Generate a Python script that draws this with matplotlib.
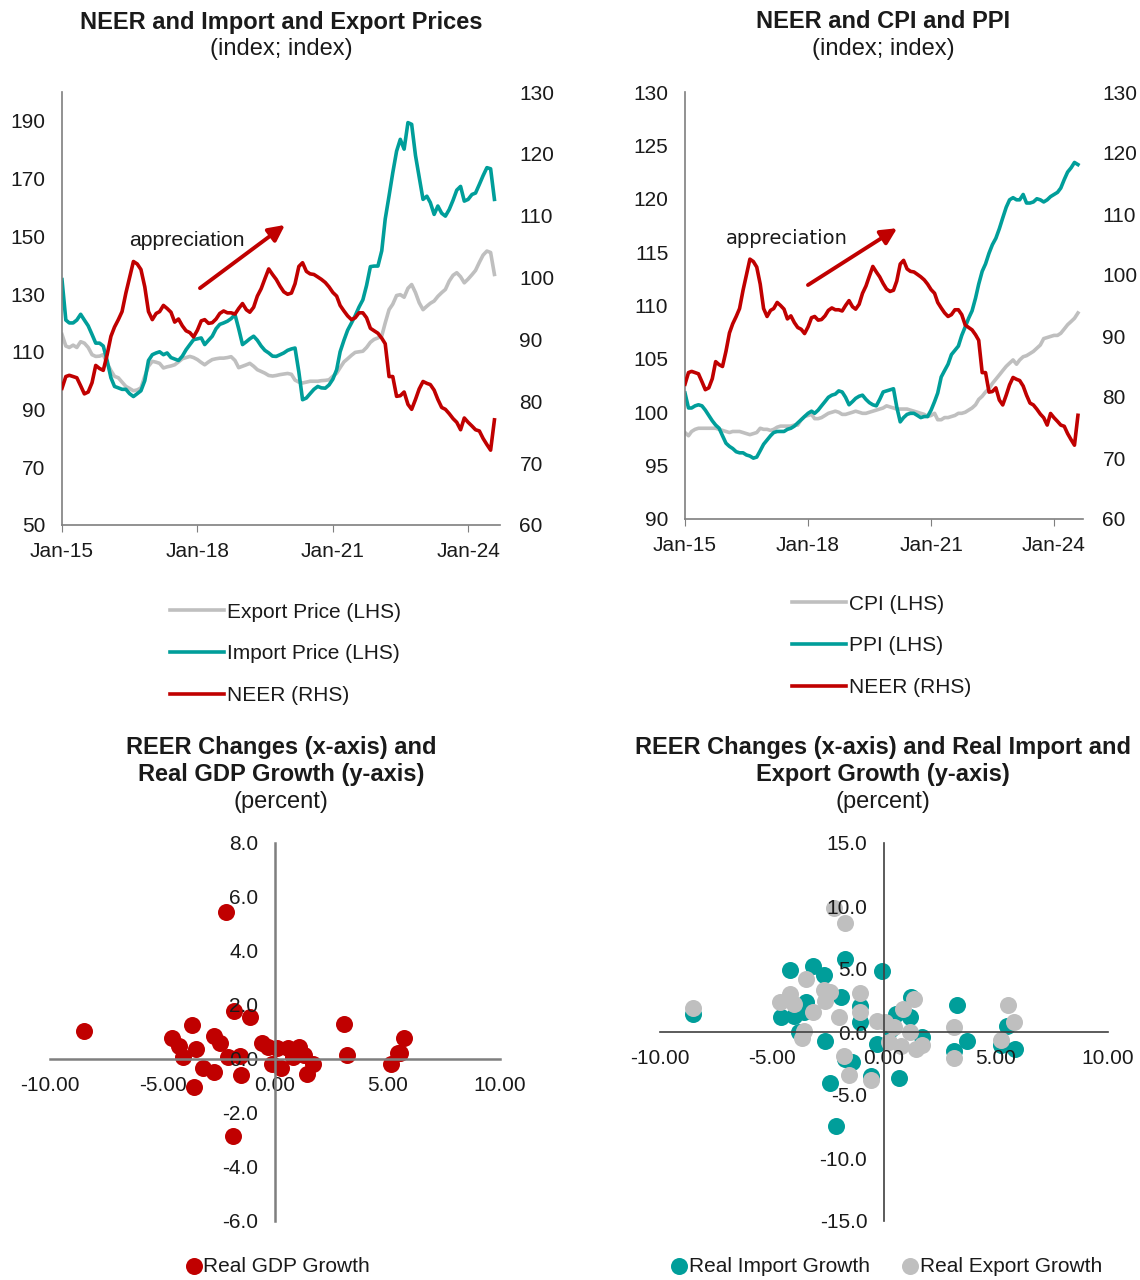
import matplotlib
matplotlib.use('Agg')
import matplotlib.pyplot as plt
import matplotlib.dates as mdates
from matplotlib.ticker import FormatStrFormatter
import pandas as pd

plt.rcParams['font.family'] = ['Liberation Sans', 'DejaVu Sans']
plt.rcParams['font.size'] = 15
plt.rcParams['text.color'] = '#1a1a1a'
plt.rcParams['xtick.color'] = '#1a1a1a'
plt.rcParams['ytick.color'] = '#1a1a1a'

RED = '#C00000'
TEAL = '#009E9A'
GREY = '#BFBFBF'
SPINE = '#7F7F7F'
TITLE_SIZE = 17

# monthly series, Jan-2015 .. Aug-2024
months = pd.date_range('2015-01-01', periods=116, freq='MS')

export_price = [
    116, 112, 111.5, 112.3, 111.5, 113.5, 113, 111.5, 109, 108.4, 108.5, 109,
    106, 103.5, 101.5, 101, 99.5, 98, 97.3, 96.5, 96.8, 97.5, 101.5, 105,
    106.7, 106.4, 106, 104.4, 104.8, 105.1, 105.5, 106.5, 107.6, 108, 108.4, 108,
    107.3, 106.3, 105.5, 106.5, 107.3, 107.6, 107.8, 107.8, 108, 108.3, 107, 104.5,
    105, 105.5, 106, 105, 103.8, 103.2, 102.6, 101.8, 101.6, 101.8, 102.1, 102.3,
    102.5, 102.2, 100.2, 99.5, 99.2, 99.5, 99.8, 99.8, 99.8, 100, 100.1, 100.3,
    101.5, 102.6, 104.5, 106.5, 107.6, 108.8, 109.8, 110, 110.2, 111.5, 113.3, 114.3,
    114.8, 115.5, 120, 124.6, 126.5, 129.5, 129.8, 128.9, 132, 133.3, 130.5, 127,
    124.6, 125.8, 126.8, 127.6, 129.2, 130.5, 131.6, 134.5, 136.5, 137.4, 136, 133.9,
    135.2, 136.7, 138.2, 141, 143.5, 144.9, 144.4, 136.8,
]
import_price = [
    135, 121, 120, 120, 121, 123, 121, 119, 116, 113, 113, 112,
    107, 101, 98, 97.5, 97, 97, 95.5, 94.5, 95.5, 96.5, 100, 107,
    109, 109.6, 110, 109, 109.6, 108, 107.5, 107, 108.5, 110.7, 112.5, 114.2,
    114.5, 114.8, 112.5, 114, 115.4, 118, 119.5, 120, 120.6, 121.5, 122.9, 118,
    112.5, 113.5, 114.5, 115.4, 114, 112, 110.5, 109.6, 108.5, 108.4, 109, 109.6,
    110.5, 111, 111.3, 103, 93.4, 94, 95.5, 97, 98, 97.5, 97.4, 98.5,
    100.5, 103.8, 110, 114, 117.5, 120, 122.5, 125.5, 128, 133, 139.5, 139.7,
    139.7, 145, 156, 164, 172, 179.5, 183.6, 180.2, 189.4, 188.8, 178, 170.5,
    162.8, 163.9, 161.7, 157.6, 160.5, 158, 157, 159.3, 162.5, 166, 167.3, 162.2,
    162.8, 164.5, 165, 168, 171, 173.8, 173.4, 162.8,
]
neer = [
    82.1, 84, 84.2, 84, 83.8, 82.5, 81.2, 81.5, 83, 85.8, 85.3, 85,
    87.5, 90.5, 92, 93.2, 94.5, 97.5, 100, 102.6, 102.2, 101.3, 98.5, 94.5,
    93.2, 94.2, 94.5, 95.5, 95, 94.4, 92.8, 93.3, 92.2, 91.4, 91.1, 90.4,
    91.5, 93, 93.2, 92.6, 92.7, 93.3, 94.2, 94.6, 94.3, 94.3, 94.1, 95,
    95.8, 94.8, 94.4, 95.2, 97, 98.2, 99.8, 101.4, 100.5, 99.7, 98.6, 97.7,
    97.3, 97.5, 99, 101.8, 102.4, 101, 100.6, 100.5, 100.1, 99.7, 99.2, 98.5,
    97.6, 97, 95.5, 94.6, 93.8, 93.2, 93.5, 94.3, 94.3, 93.5, 91.8, 91.4,
    91, 90.2, 89.3, 84, 84, 80.8, 80.9, 81.5, 79.5, 78.7, 80.3, 82,
    83.2, 82.9, 82.7, 81.8, 80.3, 79, 78.7, 78, 77.2, 76.6, 75.4, 77.3,
    76.6, 76, 75.4, 75.2, 74, 73, 72.1, 77,
]
cpi = [
    98.1, 97.8, 98.2, 98.4, 98.5, 98.5, 98.5, 98.5, 98.5, 98.5, 98.4, 98.3,
    98.2, 98.1, 98.2, 98.2, 98.2, 98.1, 98, 97.9, 98, 98.1, 98.5, 98.4,
    98.4, 98.3, 98.4, 98.6, 98.7, 98.7, 98.7, 98.7, 98.8, 98.8, 99.3, 99.6,
    99.7, 99.8, 99.4, 99.4, 99.5, 99.7, 99.9, 100, 100.1, 100, 99.8, 99.8,
    99.9, 100, 100.1, 100, 99.9, 99.9, 100, 100.1, 100.2, 100.3, 100.4, 100.6,
    100.5, 100.4, 100.3, 100.3, 100.3, 100.3, 100.2, 100.1, 100, 99.9, 99.8, 99.6,
    99.7, 99.9, 99.3, 99.3, 99.5, 99.5, 99.6, 99.7, 99.9, 99.9, 100, 100.2,
    100.4, 100.7, 101.2, 101.5, 101.9, 102.2, 102.7, 103.1, 103.5, 103.9, 104.3, 104.6,
    104.9, 104.5, 104.9, 105.2, 105.3, 105.5, 105.7, 106, 106.3, 106.9, 107, 107.1,
    107.2, 107.2, 107.4, 107.8, 108.2, 108.5, 108.8, 109.3,
]
ppi = [
    101.8, 100.4, 100.4, 100.6, 100.7, 100.6, 100.2, 99.7, 99.2, 98.8, 98.5, 97.8,
    97.1, 96.8, 96.6, 96.3, 96.2, 96.2, 96, 95.9, 95.7, 95.8, 96.4, 97,
    97.4, 97.8, 98.1, 98.2, 98.2, 98.2, 98.4, 98.5, 98.7, 99, 99.3, 99.6,
    99.9, 100.1, 99.9, 100.2, 100.6, 101, 101.4, 101.6, 101.7, 102, 101.9, 101.4,
    100.7, 101, 101.3, 101.5, 101.6, 101.2, 100.9, 100.7, 100.6, 101.2, 101.9, 102,
    102.1, 102.2, 100.5, 99.1, 99.5, 99.8, 99.9, 99.9, 99.7, 99.5, 99.6, 99.6,
    100.2, 101, 101.8, 103.3, 103.9, 104.5, 105.4, 105.8, 106.2, 107.2, 108, 108.8,
    109.5, 110.7, 112, 113.2, 113.9, 114.9, 115.7, 116.3, 117.2, 118.2, 119.2, 119.9,
    120.1, 119.9, 119.9, 120.4, 119.6, 119.6, 119.7, 120, 119.9, 119.7, 119.9, 120.2,
    120.4, 120.6, 121, 121.8, 122.5, 122.9, 123.4, 123.2,
]

# REER change vs real GDP growth
gdp_reer = [-8.51, -2.17, -3.70, -4.60, -4.25, -4.10, -3.49, -3.62, -3.19, -2.70,
            -2.70, -2.43, -2.08, -1.83, -1.11, -1.51, -1.54, -1.87, -0.60, -0.32,
            -0.13, 0.11, 0.27, 0.59, 0.79, 0.90, 1.06, 1.30, 1.41, 1.70,
            3.08, 3.21, 5.16, 5.48, 5.54, 5.75]
gdp_growth = [1.05, 5.43, 1.27, 0.78, 0.49, 0.08, 0.37, -1.03, -0.32, -0.48,
              0.86, 0.58, 0.08, 1.77, 1.57, -0.61, 0.12, -2.84, 0.58, 0.43,
              -0.19, 0.39, -0.35, 0.39, 0.08, 0.31, 0.43, 0.14, -0.57, -0.19,
              1.30, 0.16, -0.17, 0.24, 0.24, 0.78]

# REER change vs real import / export growth
imp_reer = [-8.52, -4.20, -4.58, -4.02, -3.48, -3.59, -3.80, -3.15, -2.67, -2.64,
            -2.40, -2.13, -1.92, -1.75, -1.45, -1.76, -1.08, -1.08, -0.57, -0.33,
            -0.10, 0.67, 0.54, 1.18, 1.22, 1.70, 3.12, 3.24, 3.69, 5.23,
            5.47, 5.83, 0.30]
imp_growth = [1.44, 4.89, 1.17, 1.30, 2.42, 1.57, 0.03, 5.24, 4.49, -0.69,
              -4.07, -7.47, 2.77, 5.82, -2.42, -2.15, 2.10, 0.77, -3.48, -0.96,
              4.81, -3.62, 1.44, 1.17, 2.77, -0.43, -1.49, 2.15, -0.69, -1.04,
              0.51, -1.36, 0.24]
exp_reer = [-8.52, -4.63, -4.18, -4.04, -3.48, -3.16, -3.59, -3.67, -2.67, -2.40,
            -2.62, -2.24, -1.75, -2.00, -1.80, -1.56, -1.08, -1.08, -0.57, -0.33,
            0.06, 0.22, 0.43, 0.78, 0.86, 1.18, 1.34, 1.41, 1.70, 3.13,
            3.12, 5.23, 5.55, 5.79]
exp_growth = [1.89, 2.42, 3.03, 2.23, 4.18, 1.62, 0.11, -0.51, 3.30, 3.16,
              2.50, 9.81, 8.62, 1.17, -1.94, -3.43, 3.09, 1.57, -3.80, 0.90,
              0.77, -0.82, 0.37, -1.09, 1.84, -0.03, 2.63, -1.36, -1.04, 0.43,
              -2.10, -0.61, 2.18, 0.82]

W, H = 1140, 1280
fig = plt.figure(figsize=(W / 100, H / 100), dpi=100)


def px_axes(left, top, right, bottom):
    return fig.add_axes([left / W, 1 - bottom / H, (right - left) / W, (bottom - top) / H])


def px_text(x, y, s, **kw):
    fig.text(x / W, 1 - y / H, s, ha='center', va='center', fontsize=TITLE_SIZE, **kw)


def style_line_axes(ax, axr):
    for side in ('top', 'right'):
        ax.spines[side].set_visible(False)
    for side in ax.spines:
        axr.spines[side].set_visible(False)
    for side in ('left', 'bottom'):
        ax.spines[side].set_color(SPINE)
        ax.spines[side].set_linewidth(1.2)
    ax.set_xlim(pd.Timestamp('2015-01-01'), pd.Timestamp('2024-09-15'))
    ax.set_xticks([pd.Timestamp(f'{y}-01-01') for y in (2015, 2018, 2021, 2024)])
    ax.xaxis.set_major_formatter(mdates.DateFormatter('%b-%y'))
    ax.tick_params(axis='x', length=5, color=SPINE, pad=7)
    ax.tick_params(axis='y', length=0, pad=12)
    axr.tick_params(axis='y', length=0, pad=14)


def arrow_note(ax, text_xy, tail, head, **kw):
    ax.text(*text_xy, 'appreciation', transform=ax.transAxes, ha='center',
            va='center', **kw)
    ax.annotate('', xy=head, xytext=tail, xycoords='axes fraction',
                textcoords='axes fraction',
                arrowprops=dict(arrowstyle='-|>', color=RED, lw=2.8,
                                mutation_scale=24, shrinkA=0, shrinkB=0))


LEGEND_KW = dict(loc='upper left', frameon=False, handlelength=2.6,
                 handletextpad=0.15, labelspacing=1.1, borderpad=0, borderaxespad=0)

# --- NEER and import/export prices
ax1 = px_axes(62, 92, 500, 525)
l_exp, = ax1.plot(months, export_price, color=GREY, lw=2.6)
l_imp, = ax1.plot(months, import_price, color=TEAL, lw=2.6)
ax1r = ax1.twinx()
l_neer, = ax1r.plot(months, neer, color=RED, lw=2.6)
ax1.set_ylim(50, 200)
ax1.set_yticks(range(50, 191, 20))
ax1r.set_ylim(60, 130)
ax1r.set_yticks(range(60, 131, 10))
style_line_axes(ax1, ax1r)
arrow_note(ax1, (0.285, 0.656), (0.315, 0.547), (0.509, 0.693), fontsize=15.3)
ax1.legend([l_exp, l_imp, l_neer],
           ['Export Price (LHS)', 'Import Price (LHS)', 'NEER (RHS)'],
           bbox_to_anchor=(0.2466, -0.179), **LEGEND_KW)
px_text(281, 22, 'NEER and Import and Export Prices', fontweight='bold')
px_text(281, 49, '(index; index)')

# --- NEER and CPI/PPI
ax2 = px_axes(685, 92, 1083, 519)
l_cpi, = ax2.plot(months, cpi, color=GREY, lw=2.6)
l_ppi, = ax2.plot(months, ppi, color=TEAL, lw=2.6)
ax2r = ax2.twinx()
l_neer2, = ax2r.plot(months, neer, color=RED, lw=2.6)
ax2.set_ylim(90, 130)
ax2.set_yticks(range(90, 131, 5))
ax2r.set_ylim(60, 130)
ax2r.set_yticks(range(60, 131, 10))
style_line_axes(ax2, ax2r)
arrow_note(ax2, (0.256, 0.656), (0.309, 0.548), (0.533, 0.681),
           fontsize=14, family='DejaVu Sans')
ax2.legend([l_cpi, l_ppi, l_neer2], ['CPI (LHS)', 'PPI (LHS)', 'NEER (RHS)'],
           bbox_to_anchor=(0.269, -0.177), **LEGEND_KW)
px_text(883, 22, 'NEER and CPI and PPI', fontweight='bold')
px_text(883, 49, '(index; index)')


def style_scatter_axes(ax, ylim, ystep, spine_color, spine_lw):
    ax.set_xlim(-10, 10)
    ax.set_ylim(*ylim)
    ax.set_xticks(range(-10, 11, 5))
    ax.set_yticks(range(ylim[0], ylim[1] + 1, ystep))
    ax.xaxis.set_major_formatter(FormatStrFormatter('%.2f'))
    ax.yaxis.set_major_formatter(FormatStrFormatter('%.1f'))
    for side in ('top', 'right'):
        ax.spines[side].set_visible(False)
    for side in ('left', 'bottom'):
        ax.spines[side].set_position(('data', 0))
        ax.spines[side].set_color(spine_color)
        ax.spines[side].set_linewidth(spine_lw)
    ax.tick_params(axis='x', length=0, pad=12)
    ax.tick_params(axis='y', length=0, pad=12)
    ax.patch.set_visible(False)


# --- REER vs GDP
ax3 = px_axes(50, 843, 500, 1221)
ax3.scatter(gdp_reer, gdp_growth, s=150, color=RED, linewidths=0, label='Real GDP Growth')
style_scatter_axes(ax3, (-6, 8), 2, SPINE, 1.8)
ax3.legend(loc='upper center', bbox_to_anchor=(0.507, -0.095), frameon=False,
           handlelength=0.7, handletextpad=0.1, borderpad=0, borderaxespad=0)
px_text(281, 761, 'REER Changes (x-axis) and\nReal GDP Growth (y-axis)',
        fontweight='bold', linespacing=1.22)
px_text(281, 802, '(percent)')

# --- REER vs imports/exports
ax4 = px_axes(660, 843, 1108, 1221)
ax4.scatter(imp_reer, imp_growth, s=150, color=TEAL, linewidths=0, label='Real Import Growth')
ax4.scatter(exp_reer, exp_growth, s=150, color=GREY, linewidths=0, label='Real Export Growth')
style_scatter_axes(ax4, (-15, 15), 5, '#404040', 1.2)
ax4.legend(loc='upper center', bbox_to_anchor=(0.507, -0.095), frameon=False, ncol=2,
           handlelength=0.7, handletextpad=0.1, columnspacing=1.6,
           borderpad=0, borderaxespad=0)
px_text(883, 761, 'REER Changes (x-axis) and Real Import and\nExport Growth (y-axis)',
        fontweight='bold', linespacing=1.22)
px_text(883, 802, '(percent)')

fig.savefig('out.png', dpi=100)
